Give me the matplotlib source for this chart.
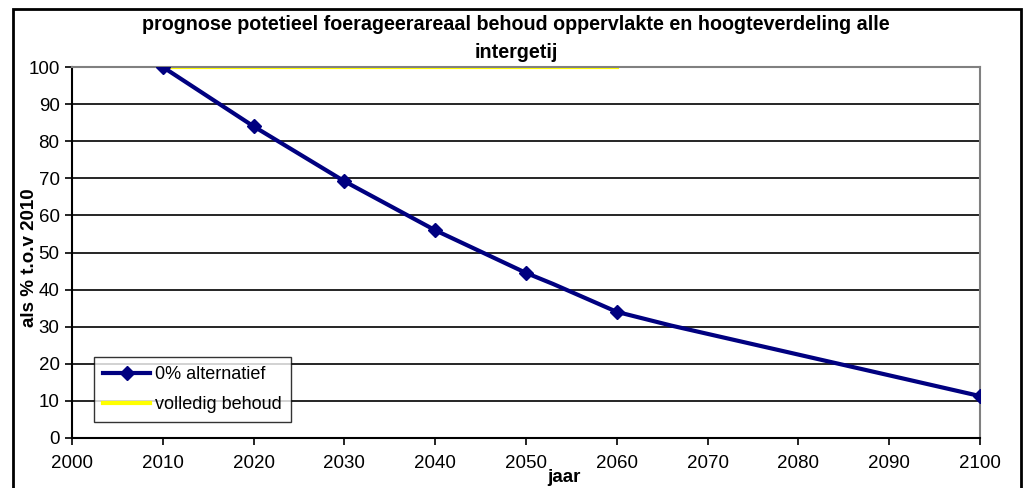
import matplotlib
matplotlib.use("Agg")
import matplotlib.pyplot as plt
from matplotlib.patches import Rectangle
from matplotlib.lines import Line2D

plt.rcParams['font.family'] = ['Liberation Sans', 'DejaVu Sans']

# Data
years_line = [2010, 2020, 2030, 2040, 2050, 2053, 2060, 2066, 2078, 2100]
values_line = [100, 84, 69.2, 56, 44.5, 41.5, 34, 30.3, 23.6, 11.3]
marker_years = [2010, 2020, 2030, 2040, 2050, 2060, 2100]
years_behoud = [2010, 2020, 2030, 2040, 2050, 2060]
values_behoud = [100, 100, 100, 100, 100, 100]
x_ticks = list(range(2000, 2101, 10))
y_ticks = list(range(0, 101, 10))

title = "prognose potetieel foerageerareaal behoud oppervlakte en hoogteverdeling alle\nintergetij"
ylabel = "als % t.o.v 2010"
xlabel = "jaar"

W, H = 1023, 488
fig = plt.figure(figsize=(W / 100, H / 100), dpi=100)
ax = fig.add_axes([72 / W, 1 - 438 / H, (980 - 72) / W, (438 - 67) / H])

for yv in y_ticks[1:]:
    ax.axhline(yv, color='black', lw=1.2, zorder=1)

ax.plot(years_line, values_line, color='#000080', lw=3, zorder=3,
        solid_joinstyle='round')
mk_vals = [values_line[years_line.index(y)] for y in marker_years]
ax.plot(marker_years, mk_vals, linestyle='none', marker='D', ms=7,
        color='#000080', zorder=4)
ax.plot(years_behoud, values_behoud, color='#FFFF00', lw=3, zorder=2)

h1 = Line2D([], [], color='#000080', lw=3, marker='D', ms=7)
h2 = Line2D([], [], color='#FFFF00', lw=3)
leg = ax.legend([h1, h2], ['0% alternatief', 'volledig behoud'],
                loc='lower left',
                bbox_to_anchor=((94 - 72) / (980 - 72), (438 - 422) / (438 - 67)),
                frameon=True, fancybox=False, edgecolor='black', fontsize=13,
                handlelength=2.6, handletextpad=0.3, borderpad=0.5,
                labelspacing=0.7, borderaxespad=0)
leg.get_frame().set_linewidth(1.0)

ax.set_xlim(2000, 2100)
ax.set_ylim(0, 100)
ax.set_xticks(x_ticks)
ax.set_yticks(y_ticks)
ax.tick_params(axis='both', direction='out', length=5, width=1.2, labelsize=13.5, color='black')
ax.tick_params(axis='x', pad=7)
ax.tick_params(axis='y', pad=4)
for s in ['left', 'bottom']:
    ax.spines[s].set_color('black')
    ax.spines[s].set_linewidth(1.5)
for s in ['top', 'right']:
    ax.spines[s].set_color('#808080')
    ax.spines[s].set_linewidth(1.5)

fig.text(516 / W, 1 - 39 / H, title, ha='center', va='center', fontsize=14.2,
         fontweight='bold', linespacing=1.6)
fig.text(30 / W, 1 - 258 / H, ylabel, rotation=90, ha='center', va='center',
         fontsize=13.5, fontweight='bold')
fig.text(564 / W, 1 - 477 / H, xlabel, ha='center', va='center', fontsize=13.5,
         fontweight='bold')

fig.patches.append(Rectangle((12.5 / W, -0.1), (1021 - 12.5) / W, (1 - 8.5 / H) + 0.1,
                             transform=fig.transFigure, fill=False, edgecolor='black',
                             lw=2, clip_on=False))

fig.savefig('out.png', dpi=100)
